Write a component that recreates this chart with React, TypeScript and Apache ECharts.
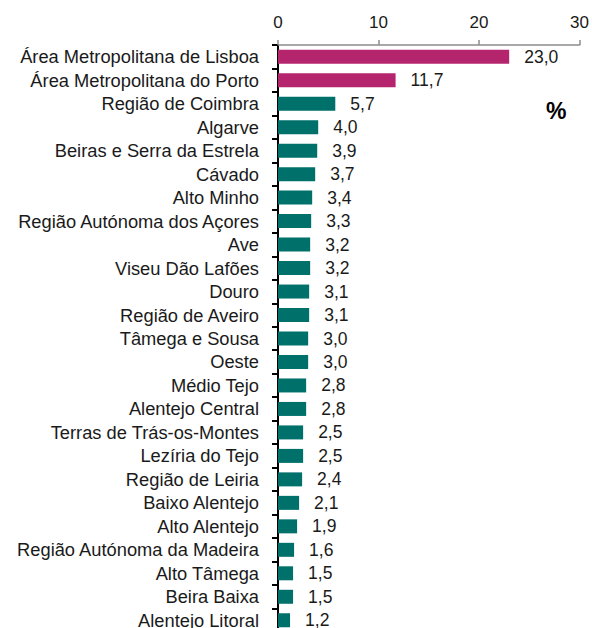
import React, { useEffect, useRef } from "react";
import * as echarts from "echarts";

const categories = [
  "Área Metropolitana de Lisboa",
  "Área Metropolitana do Porto",
  "Região de Coimbra",
  "Algarve",
  "Beiras e Serra da Estrela",
  "Cávado",
  "Alto Minho",
  "Região Autónoma dos Açores",
  "Ave",
  "Viseu Dão Lafões",
  "Douro",
  "Região de Aveiro",
  "Tâmega e Sousa",
  "Oeste",
  "Médio Tejo",
  "Alentejo Central",
  "Terras de Trás-os-Montes",
  "Lezíria do Tejo",
  "Região de Leiria",
  "Baixo Alentejo",
  "Alto Alentejo",
  "Região Autónoma da Madeira",
  "Alto Tâmega",
  "Beira Baixa",
  "Alentejo Litoral",
];

const values = [
  23.0, 11.7, 5.7, 4.0, 3.9, 3.7, 3.4, 3.3, 3.2, 3.2, 3.1, 3.1, 3.0, 3.0, 2.8,
  2.8, 2.5, 2.5, 2.4, 2.1, 1.9, 1.6, 1.5, 1.5, 1.2,
];

const highlighted = [
  "Área Metropolitana de Lisboa",
  "Área Metropolitana do Porto",
];

const MAGENTA = "#B5256E";
const TEAL = "#00706B";
const FONT = "'Liberation Sans', Arial, sans-serif";

export default function App() {
  const ref = useRef<HTMLDivElement>(null);
  useEffect(() => {
    document.body.style.margin = "0";
    const chart = echarts.init(ref.current!, null, { renderer: "svg" });
    chart.setOption({
      animation: false,
      textStyle: { fontFamily: FONT },
      grid: { left: 278, right: 12, top: 45, bottom: 0, containLabel: false },
      xAxis: {
        type: "value",
        position: "top",
        min: 0,
        max: 30,
        interval: 10,
        axisLine: { show: true, lineStyle: { color: "#8C8C8C", width: 1.5 } },
        axisTick: { show: true, length: 5, lineStyle: { color: "#8C8C8C", width: 1.5 } },
        splitLine: { show: false },
        axisLabel: { fontSize: 17, color: "#1a1a1a", margin: 14, fontFamily: FONT },
      },
      yAxis: {
        type: "category",
        inverse: true,
        data: categories,
        axisLine: { show: true, lineStyle: { color: "#000", width: 2 } },
        axisTick: { show: true, length: 6, interval: 0, lineStyle: { color: "#000", width: 2 } },
        axisLabel: {
          interval: 0,
          hideOverlap: false,
          fontSize: 18.3,
          color: "#1a1a1a",
          margin: 19,
          fontFamily: FONT,
        },
      },
      series: [
        {
          type: "bar",
          barWidth: 14,
          data: values.map((v, i) => ({
            value: v,
            itemStyle: { color: highlighted.includes(categories[i]) ? MAGENTA : TEAL },
          })),
          label: {
            show: true,
            position: "right",
            distance: 15,
            fontSize: 17.5,
            color: "#1a1a1a",
            fontFamily: FONT,
            formatter: (p: any) => Number(p.value).toFixed(1).replace(".", ","),
          },
        },
      ],
      graphic: [
        {
          type: "text",
          left: 546,
          top: 99,
          style: {
            text: "%",
            fontSize: 23,
            fontWeight: "bold",
            fill: "#000",
            fontFamily: FONT,
          },
        },
      ],
    });
    return () => chart.dispose();
  }, []);
  return (
    <div style={{ width: 592, height: 628, overflow: "hidden" }}>
      <div ref={ref} style={{ width: 592, height: 632 }} />
    </div>
  );
}
